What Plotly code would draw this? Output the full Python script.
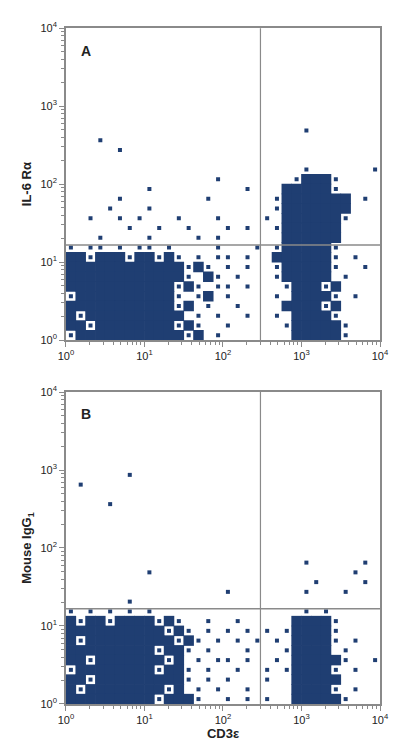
import plotly.graph_objects as go

# occupancy grids: 8 cells per decade, columns log10(x) 0..4, rows from top (row 31) to bottom (row 0)
# '#' = dense cell, 'o' = isolated event, '.' = empty
grid_A = [
"........ ........ ........ ........",
"........ ........ ........ ........",
"........ ........ ........ ........",
"........ ........ ........ ........",
"........ ........ ........ ........",
"........ ........ ........ ........",
"........ ........ ........ ........",
"........ ........ ........ ........",
"........ ........ ........ ........",
"........ ........ ........ ........",
"........ ........ ........ o.......",
"...o.... ........ ........ ........",
".....o.. ........ ........ ........",
"........ ........ ........ ........",
"........ ........ ........ o......o",
"........ .......o .......o ###o....",
"........ o....... ..o...## ###o....",
".....o.. ......o. .....o## #####.o.",
"....o... o....... .....o## #####...",
"..o..o.o ...o...o ....o.## ####o...",
"......o. .o..o... o.o..o## ####....",
"...o.... o....o.o ......## ####....",
"o.oo.o.o o.o....o ...o.o## ###o....",
"##o###o# #o#o.o.o o.o..### ###o.o..",
"######## ####o#o. o.o..o## ###o..o.",
"######## ####o.#o .o...o## ###.o...",
"######## ###o#o.o o.o...o# ##o#....",
"o####### ###o.o#. o....o.# ###o.o..",
"######## ###o#.o. .o....## ##o#....",
"#o###### ####.o.o ..o..o.# ###o....",
"##o##### ###o#o.. o.....o# ####o...",
"o####### ####o#.o .......# ####o...",
]
grid_B = [
"........ ........ ........ ........",
"........ ........ ........ ........",
"........ ........ ........ ........",
"........ ........ ........ ........",
"........ ........ ........ ........",
"........ ........ ........ ........",
"........ ........ ........ ........",
"........ ........ ........ ........",
"......o. ........ ........ ........",
".o...... ........ ........ ........",
"........ ........ ........ ........",
"....o... ........ ........ ........",
"........ ........ ........ ........",
"........ ........ ........ ........",
"........ ........ ........ ........",
"........ ........ ........ ........",
"........ ........ ........ ........",
"........ ........ ........ o.....o.",
"........ o....... ........ .....o..",
"........ ........ ........ .o....o.",
"........ ........ o....... o...o...",
"......o. ........ ........ ........",
"o.o.o.o. o....... ........ o.o.....",
"#o##o### #o#o..o. .o.....# ###o....",
"######## ##o#o.o. o.o.o.o# ###o....",
"#o###### ###o#o.o .o.o.o.# ###o.o..",
"######## #o##o.o. ..o...o# ###.o...",
"##o##### ##o#.o.o o.o..o.# ####o..o",
"o####### #o##o.o. .o..o.o# ###o.o..",
"##o##### ####o.o. o...o..# ####....",
"#o###### ##o#.o.o ..o....# ###o.o..",
"######## #o###o.. o.o.o..# ####o...",
]
x_title = "CD3ε"
y_titles = ["IL-6 Rα", "Mouse IgG<sub>1</sub>"]
panel_labels = ["A", "B"]
quad_x, quad_y = 300, 16.6
major_ticks = [1, 10, 100, 1000, 10000]
major_text = ["10<sup>0</sup>", "10<sup>1</sup>", "10<sup>2</sup>", "10<sup>3</sup>", "10<sup>4</sup>"]
minor_ticks = [m * 10**d for d in range(4) for m in range(2, 10)]

BLUE = "#1f3e72"
GRAY = "#8a8a8a"
FONT = "Liberation Sans Narrow, Liberation Sans, Arial"

def cells(grid, ch):
    xs, ys = [], []
    n = len(grid)
    for i, row in enumerate(grid):
        row = row.replace(" ", "")
        r = n - 1 - i
        for c, v in enumerate(row):
            if v == ch:
                xs.append(10 ** ((c + 0.5) / 8))
                ys.append(10 ** ((r + 0.5) / 8))
    return xs, ys

fig = go.Figure()
doms = [[0.5567, 0.973], [0.0708, 0.4873]]
for k, grid in enumerate([grid_A, grid_B]):
    xa = "x" if k == 0 else "x2"
    ya = "y" if k == 0 else "y2"
    for ch, sz in [("#", 10.5), ("o", 4)]:
        xs, ys = cells(grid, ch)
        fig.add_trace(go.Scatter(x=xs, y=ys, mode="markers", xaxis=xa, yaxis=ya,
                                 marker=dict(symbol="square", size=sz, color=BLUE, line=dict(width=0)),
                                 showlegend=False, hoverinfo="skip"))
    sfx = "" if k == 0 else "2"
    axcommon = dict(type="log", range=[0, 4], tickvals=major_ticks, ticktext=major_text,
                    ticks="outside", ticklen=5, tickcolor=GRAY, showgrid=False, zeroline=False,
                    showline=True, linecolor=GRAY, linewidth=1.5, mirror=True, automargin=False,
                    tickfont=dict(family=FONT, size=11, color="#222"),
                    minor=dict(tickvals=minor_ticks, ticks="outside", ticklen=3, tickcolor=GRAY))
    fig.update_layout(**{
        "xaxis" + sfx: dict(axcommon, domain=[0.1446, 0.9277], anchor=ya,
                            title=dict(text=f"<b>{x_title}</b>" if k == 1 else "", standoff=4,
                                       font=dict(family=FONT, size=13, color="#222"))),
        "yaxis" + sfx: dict(axcommon, domain=doms[k], anchor=xa,
                            title=dict(text=f"<b>{y_titles[k]}</b>", standoff=6,
                                       font=dict(family=FONT, size=13, color="#222"))),
    })
    fig.add_shape(type="line", xref=xa, yref="y" + sfx + " domain" if sfx else "y domain",
                  x0=quad_x, x1=quad_x, y0=0, y1=1, line=dict(color=GRAY, width=1.2))
    fig.add_shape(type="line", xref=("x" + sfx + " domain") if sfx else "x domain", yref=ya,
                  x0=0, x1=1, y0=quad_y, y1=quad_y, line=dict(color=GRAY, width=1.5))
    fig.add_annotation(text=f"<b>{panel_labels[k]}</b>", xref=("x" + sfx + " domain") if sfx else "x domain",
                       yref=("y" + sfx + " domain") if sfx else "y domain", x=0.04, y=0.96,
                       xanchor="left", yanchor="top", showarrow=False,
                       font=dict(family=FONT, size=14, color="#222"))

fig.update_layout(width=401, height=749, margin=dict(l=0, r=0, t=0, b=0),
                  paper_bgcolor="white", plot_bgcolor="white")
fig.write_html("out.html")
